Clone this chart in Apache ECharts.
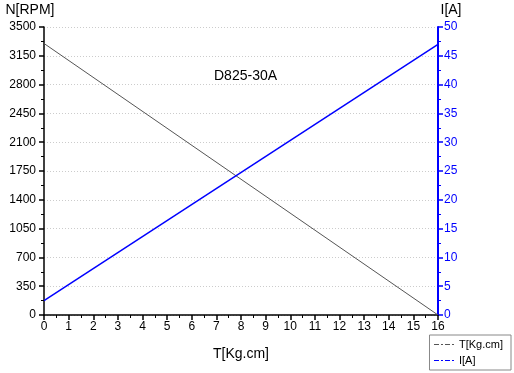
<!DOCTYPE html>
<html><head><meta charset="utf-8">
<script src="https://cdn.jsdelivr.net/npm/echarts@6/dist/echarts.min.js"></script>
<style>html,body{margin:0;padding:0;background:#fff}#c{width:514px;height:373px}</style>
</head><body><div id="c"></div>
<script>
var torque = [0, 16];
var speedRPM = [3300, 0];
var currentA = [2.5, 47];
var seriesNames = ['T[Kg.cm]', 'I[A]'];
var chartTitle = 'D825-30A';

var chart = echarts.init(document.getElementById('c'));
var font = 'Liberation Sans, Arial, sans-serif';
chart.setOption({
  animation: false,
  textStyle: {fontFamily: font},
  title: {text: chartTitle, left: 209, top: 64, textStyle: {fontSize: 14, fontWeight: 'normal', color: '#000', fontFamily: font}},
  grid: {left: 44, right: 76, top: 27, bottom: 58},
  legend: {
    orient: 'vertical', right: 3, bottom: 3, borderColor: '#888', borderWidth: 1, padding: [4, 8, 4, 4],
    itemGap: 5, itemWidth: 20, itemHeight: 10,
    textStyle: {fontSize: 11, color: '#000', fontFamily: font},
    data: [
      {name: seriesNames[0], itemStyle: {opacity: 0}, lineStyle: {type: [5, 2, 2, 2], width: 1}},
      {name: seriesNames[1], itemStyle: {opacity: 0}, lineStyle: {type: [5, 2, 2, 2], width: 1}}
    ]
  },
  xAxis: {
    type: 'value', min: 0, max: 16, interval: 1,
    name: 'T[Kg.cm]', nameLocation: 'middle', nameGap: 32,
    nameTextStyle: {fontSize: 14, color: '#000'},
    axisLine: {lineStyle: {color: '#000', width: 1.5}},
    axisTick: {show: true, inside: false, length: 5, lineStyle: {color: '#000', width: 1.5}},
    minorTick: {show: true, splitNumber: 2, length: 3, lineStyle: {color: '#000'}},
    axisLabel: {fontSize: 12, color: '#000', margin: 6},
    splitLine: {show: false}
  },
  yAxis: [{
    type: 'value', min: 0, max: 3500, interval: 350,
    name: 'N[RPM]', nameLocation: 'end', nameGap: 10,
    nameTextStyle: {fontSize: 14, color: '#000', padding: [0, 28, 0, 0]},
    axisLine: {show: true, lineStyle: {color: '#000', width: 1.5}},
    axisTick: {show: true, inside: false, length: 5, lineStyle: {color: '#000', width: 1.5}},
    minorTick: {show: true, splitNumber: 2, length: 3, lineStyle: {color: '#000'}},
    axisLabel: {fontSize: 12, color: '#000', margin: 8, formatter: function (v) { return String(v); }},
    splitLine: {show: true, lineStyle: {color: '#ccc', type: [1, 2], width: 1}}
  }, {
    type: 'value', min: 0, max: 50, interval: 5, position: 'right',
    name: 'I[A]', nameLocation: 'end', nameGap: 10,
    nameTextStyle: {fontSize: 14, color: '#000', padding: [0, 0, 0, 26]},
    axisLine: {show: true, lineStyle: {color: '#0000ff', width: 2}},
    axisTick: {show: true, inside: false, length: 5, lineStyle: {color: '#0000ff', width: 1.5}},
    minorTick: {show: true, splitNumber: 2, length: 3, lineStyle: {color: '#0000ff'}},
    axisLabel: {fontSize: 12, color: '#0000ff', margin: 6},
    splitLine: {show: false}
  }],
  series: [{
    name: seriesNames[0], type: 'line', yAxisIndex: 0, symbol: 'none',
    data: torque.map(function (t, i) { return [t, speedRPM[i]]; }),
    lineStyle: {color: '#555', width: 1}, itemStyle: {color: '#555'}
  }, {
    name: seriesNames[1], type: 'line', yAxisIndex: 1, symbol: 'none',
    data: torque.map(function (t, i) { return [t, currentA[i]]; }),
    lineStyle: {color: '#0000ff', width: 1.5}, itemStyle: {color: '#0000ff'}
  }]
});
</script></body></html>
